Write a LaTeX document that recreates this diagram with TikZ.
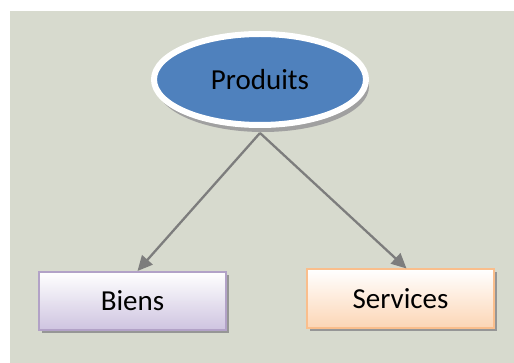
\documentclass[tikz,border=0pt]{standalone}
\usepackage{fontspec}
\setmainfont{Carlito}
\usepackage{xcolor}
\usetikzlibrary{shapes.geometric, arrows.meta, positioning, calc, shadows}
\definecolor{fondgris}{RGB}{215,218,206}
\definecolor{bleuprod}{RGB}{79,129,189}
\definecolor{lavande}{RGB}{178,162,199}
\definecolor{lavandeclair}{RGB}{206,196,224}
\definecolor{peche}{RGB}{250,190,140}
\definecolor{pecheclair}{RGB}{252,214,182}
\definecolor{fleche}{RGB}{125,125,125}
\definecolor{ombre}{RGB}{150,150,150}

\begin{document}
\begin{tikzpicture}[x=1pt, y=-1pt,
    boite/.style={draw, rectangle, line width=2pt, minimum width=187pt, minimum height=58pt,
        font=\fontsize{29}{34}\selectfont,
        drop shadow={shadow xshift=3pt, shadow yshift=-3pt, fill=ombre, opacity=1}},
    lien/.style={-{Triangle[length=15pt, width=14pt]}, draw=fleche, fill=fleche, line width=2.3pt}]
    % Fond
    \useasboundingbox (0,0) rectangle (514,363);
    \fill[fondgris] (10,11) rectangle (514,363);

    % Ellipse centrale
    \node[draw=white, ellipse, line width=6pt, fill=bleuprod, minimum width=212pt, minimum height=91pt,
        inner sep=0pt, font=\fontsize{29}{34}\selectfont,
        drop shadow={shadow xshift=3pt, shadow yshift=-7pt, fill=ombre!90, opacity=1}]
        (prod) at (260,79.5) {Produits};

    % Boites
    \node[boite, draw=lavande, top color=white, bottom color=lavandeclair] (biens) at (132.5,301) {Biens};
    \node[boite, draw=peche, top color=white, bottom color=pecheclair] (serv) at (400.5,298.5) {Services};

    % Fleches
    \draw[lien] ([yshift=-5pt]prod.south) -- ([xshift=5pt]biens.north);
    \draw[lien] ([yshift=-5pt]prod.south) -- ([xshift=6pt]serv.north);
\end{tikzpicture}
\end{document}
